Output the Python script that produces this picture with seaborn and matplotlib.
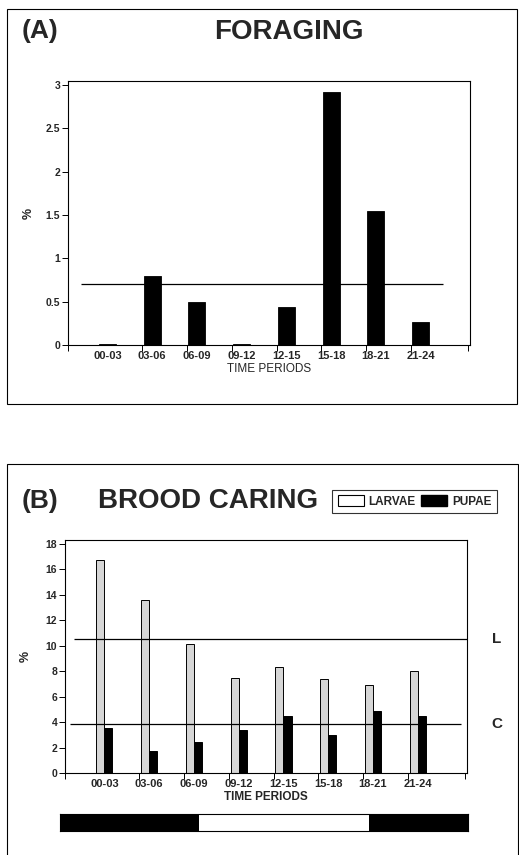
import numpy as np
import pandas as pd
import matplotlib
matplotlib.use('Agg')
import matplotlib.pyplot as plt
import matplotlib.transforms as mtransforms
from matplotlib.patches import Rectangle, Patch
import seaborn as sns

# data
periods = ['00-03', '03-06', '06-09', '09-12', '12-15', '15-18', '18-21', '21-24']
foraging = [0.01, 0.80, 0.50, 0.01, 0.44, 2.92, 1.55, 0.27]
foraging_mean = 0.70
larvae = [16.7, 13.6, 10.1, 7.5, 8.3, 7.4, 6.9, 8.0]
pupae = [3.5, 1.7, 2.4, 3.4, 4.5, 3.0, 4.9, 4.5]
larvae_mean = 10.5
pupae_mean = 3.85
# light/dark strip below panel B (hours)
strip_starts = [0, 8.2, 18.2]
strip_ends = [8.2, 18.2, 24]
strip_colors = ['black', 'white', 'black']

sns.set_theme(style='ticks')
plt.rcParams['font.family'] = ['Liberation Sans', 'DejaVu Sans']
plt.rcParams['axes.edgecolor'] = 'black'
plt.rcParams['axes.linewidth'] = 0.8

W, H = 519, 855
fig = plt.figure(figsize=(W / 100, H / 100), dpi=100)


def fx(px):
    return px / W


def fy(py):
    return 1 - py / H


# panel frames
fig.add_artist(Rectangle((fx(7), fy(404)), fx(510), (404 - 9) / H, transform=fig.transFigure,
                         fill=False, edgecolor='black', linewidth=0.8))
fig.add_artist(Rectangle((fx(7), -0.01), fx(511), fy(464) + 0.01, transform=fig.transFigure,
                         fill=False, edgecolor='black', linewidth=0.8))


def style_axis(ax, ymax, yticks, yticklabels):
    ax.set_xlim(-0.88, 8.1)
    ax.set_ylim(0, ymax)
    ax.set_xticks(range(len(periods)))
    ax.set_xticklabels(periods, fontsize=8, fontweight='bold')
    ax.tick_params(axis='x', length=0, pad=4)
    ax.set_xticks(list(np.arange(1, 8) - 0.22) + [-0.88, 8.05], minor=True)
    ax.tick_params(axis='x', which='minor', length=4, width=0.7, color='black')
    ax.set_yticks(yticks)
    ax.set_yticklabels(yticklabels, fontsize=7.5, fontweight='bold')
    ax.tick_params(axis='y', length=4, width=0.7, pad=1.5, color='black')
    for s in ax.spines.values():
        s.set_visible(True)
        s.set_color('black')
        s.set_linewidth(0.8)


# ---- panel A: foraging ----
axA = fig.add_axes([fx(68), fy(345), fx(470 - 68), (345 - 81) / H])
dfA = pd.DataFrame({'period': periods, 'pct': foraging})
sns.barplot(data=dfA, x='period', y='pct', color='black', width=0.38,
            edgecolor='black', linewidth=0.6, saturation=1, ax=axA)
style_axis(axA, 3.045, [0, 0.5, 1, 1.5, 2, 2.5, 3], ['0', '0.5', '1', '1.5', '2', '2.5', '3'])
axA.hlines(foraging_mean, -0.6, 7.5, color='black', linewidth=0.9)
axA.set_xlabel('TIME PERIODS', fontsize=8.5, labelpad=2)
axA.set_ylabel('%', fontsize=9, fontweight='bold', labelpad=8)
fig.text(fx(22), fy(31), '(A)', fontsize=19, fontweight='bold', va='center', ha='left')
fig.text(fx(289), fy(32), 'FORAGING', fontsize=20, fontweight='bold', va='center', ha='center')

# ---- panel B: brood caring ----
axB = fig.add_axes([fx(65), fy(773), fx(467 - 65), (773 - 540) / H])
dfB = pd.DataFrame({
    'period': periods * 2,
    'pct': larvae + pupae,
    'brood': ['LARVAE'] * len(periods) + ['PUPAE'] * len(periods),
})
sns.barplot(data=dfB, x='period', y='pct', hue='brood', width=0.36,
            palette={'LARVAE': '#d6d6d6', 'PUPAE': 'black'}, edgecolor='black',
            linewidth=0.7, saturation=1, legend=False, ax=axB)
style_axis(axB, 18.3, list(range(0, 19, 2)), [str(v) for v in range(0, 19, 2)])
axB.hlines(larvae_mean, -0.67, 8.1, color='black', linewidth=0.9)
axB.hlines(pupae_mean, -0.76, 7.96, color='black', linewidth=0.9)
axB.set_xlabel('TIME PERIODS', fontsize=8.5, fontweight='bold', labelpad=2)
axB.set_ylabel('%', fontsize=9, fontweight='bold', labelpad=10)
blend = mtransforms.blended_transform_factory(fig.transFigure, axB.transData)
axB.text(fx(497), larvae_mean, 'L', transform=blend, fontsize=11, fontweight='bold',
         ha='center', va='center', clip_on=False)
axB.text(fx(497), pupae_mean, 'C', transform=blend, fontsize=11, fontweight='bold',
         ha='center', va='center', clip_on=False)
fig.text(fx(22), fy(501), '(B)', fontsize=19, fontweight='bold', va='center', ha='left')
fig.text(fx(98), fy(501), 'BROOD CARING', fontsize=20, fontweight='bold', va='center', ha='left')

handles = [Patch(facecolor='white', edgecolor='black', linewidth=0.8, label='LARVAE'),
           Patch(facecolor='black', edgecolor='black', label='PUPAE')]
leg = fig.legend(handles=handles, ncol=2, loc='center', bbox_to_anchor=(fx(414.5), fy(501.5)),
                 prop={'size': 8.5, 'weight': 'bold'}, frameon=True, fancybox=False,
                 edgecolor='black', handlelength=2.2, handleheight=1.0, handletextpad=0.4,
                 columnspacing=0.5, borderpad=0.45, borderaxespad=0)
leg.get_frame().set_linewidth(0.8)

# light/dark strip
axS = fig.add_axes([fx(60), fy(831), fx(408), 17 / H])
axS.barh([0, 0, 0], np.array(strip_ends) - np.array(strip_starts), left=strip_starts,
         color=strip_colors, height=1, edgecolor='none')
axS.set_xlim(0, 24)
axS.set_ylim(-0.5, 0.5)
axS.set_xticks([])
axS.set_yticks([])
for s in axS.spines.values():
    s.set_visible(True)
    s.set_color('black')
    s.set_linewidth(0.8)

fig.savefig('out.png', dpi=100)
